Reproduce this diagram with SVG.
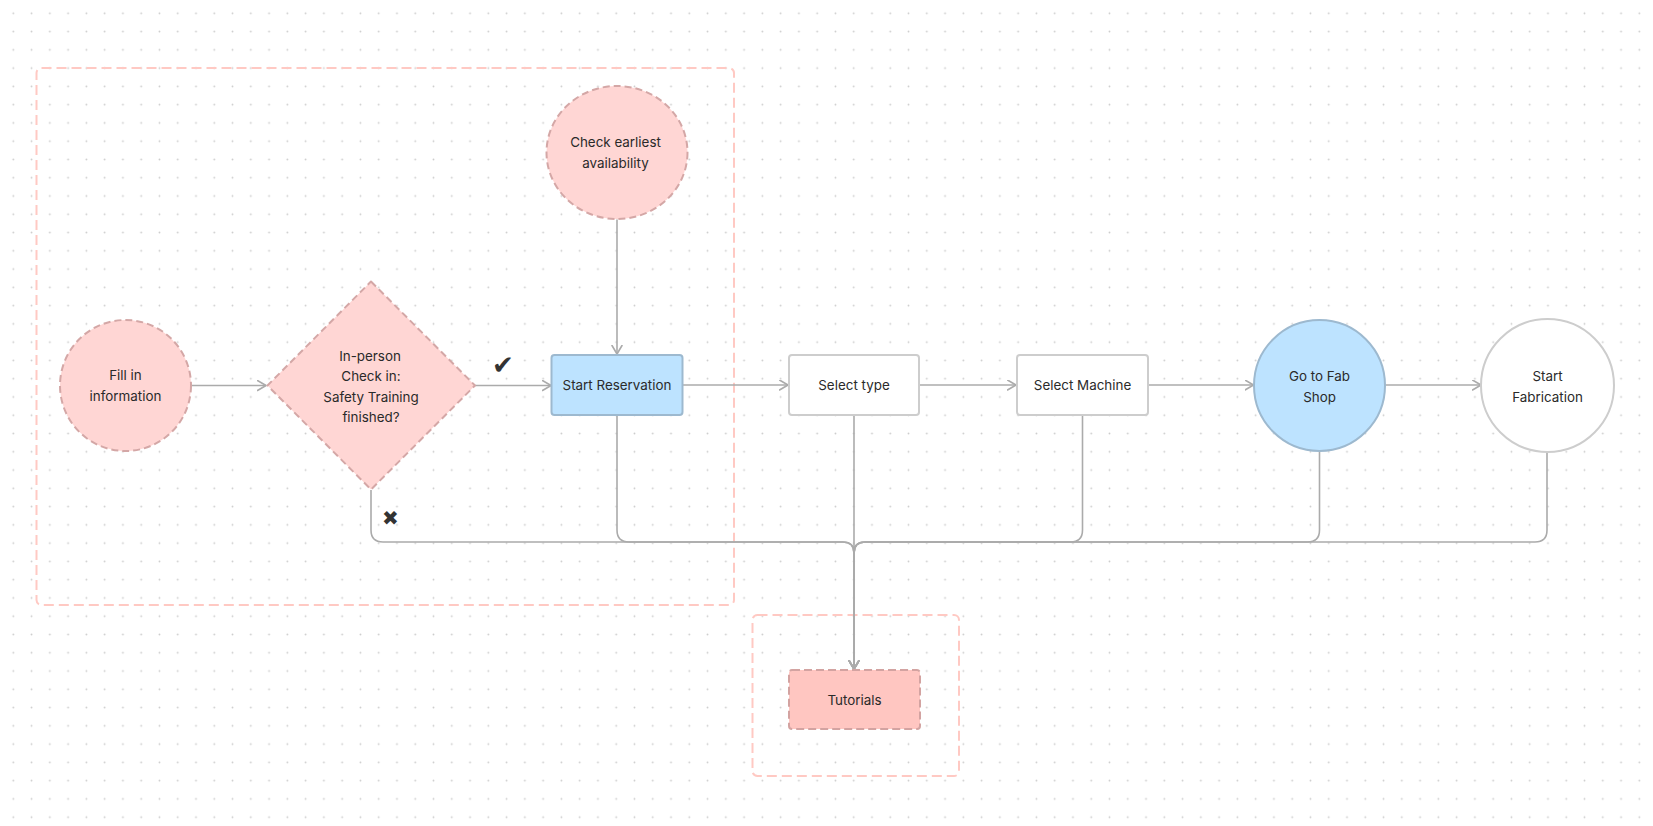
<svg xmlns="http://www.w3.org/2000/svg" width="1653" height="826" viewBox="0 0 1653 826">
<defs>
<pattern id="dots" x="4.17" y="4.17" width="18.27" height="18.27" patternUnits="userSpaceOnUse">
<circle cx="9.135" cy="9.135" r="0.9" fill="#CBCBCB"/>
</pattern>
<marker id="arr" markerWidth="12" markerHeight="14" refX="9" refY="5.5" orient="auto" markerUnits="userSpaceOnUse">
<path d="M0.5,0.5 L9,5.5 L0.5,10.5" fill="none" stroke="#ABABAB" stroke-width="1.6" stroke-linecap="round" stroke-linejoin="round"/>
</marker>
<style>
.t{font-family:Inter,"Liberation Sans",Arial,sans-serif;font-size:13.4px;fill:#2A2A2A;text-anchor:middle}
.pink{fill:#FFD6D4;stroke:#D4A7A6;stroke-width:2;stroke-dasharray:7 4}
.blue{fill:#BDE3FF;stroke:#9DB9CF;stroke-width:2}
.white{fill:#FFFFFF;stroke:#CDCDCD;stroke-width:2}
.frame{fill:none;stroke:#FFC9C3;stroke-width:2;stroke-dasharray:10 5}
.c{fill:none;stroke:#ABABAB;stroke-width:1.6}
.sym{font-family:"DejaVu Sans",sans-serif;fill:#333333;text-anchor:middle}
</style>
</defs>
<rect width="1653" height="826" fill="#FFFFFF"/>
<rect width="1653" height="826" fill="url(#dots)"/>

<g id="frames">
<rect class="frame" x="36.5" y="68" width="697.5" height="537" rx="5"/>
<rect class="frame" x="752.5" y="615" width="206.5" height="161" rx="5"/>
</g>

<g id="connectors">
<path class="c" d="M191 385.5 H266" marker-end="url(#arr)"/>
<path class="c" d="M475 385.5 H551" marker-end="url(#arr)"/>
<path class="c" d="M617 219.5 V354" marker-end="url(#arr)"/>
<path class="c" d="M682.5 385 H788" marker-end="url(#arr)"/>
<path class="c" d="M919 385 H1016" marker-end="url(#arr)"/>
<path class="c" d="M1148 385 H1253.5" marker-end="url(#arr)"/>
<path class="c" d="M1385 385 H1481" marker-end="url(#arr)"/>
<path class="c" d="M371 490 V530 Q371 542 383 542 H843 Q854 542 854 553 V669" marker-end="url(#arr)"/>
<path class="c" d="M617 415 V530 Q617 542 629 542 H843 Q854 542 854 553 V669" marker-end="url(#arr)"/>
<path class="c" d="M854 415 V669" marker-end="url(#arr)"/>
<path class="c" d="M1082.5 415 V530 Q1082.5 542 1070.5 542 H865 Q854 542 854 553 V669" marker-end="url(#arr)"/>
<path class="c" d="M1319.5 451 V530 Q1319.5 542 1307.5 542 H865 Q854 542 854 553 V669" marker-end="url(#arr)"/>
<path class="c" d="M1547 452 V530 Q1547 542 1535 542 H865 Q854 542 854 553 V669" marker-end="url(#arr)"/>
<text class="sym" x="503" y="374" font-size="26">✔</text>
<text class="sym" x="390.5" y="524.5" font-size="20">✖</text>
</g>

<g id="fill-info">
<circle class="pink" cx="125.5" cy="385.5" r="65.5"/>
<text class="t" x="125.5" y="380">Fill in</text>
<text class="t" x="125.5" y="401">information</text>
</g>

<g id="check-in">
<path class="pink" d="M371 281.5 L475 385.5 L371 489.5 L267.5 385.5 Z" stroke-linejoin="round"/>
<text class="t" x="370" y="360.5">In-person</text>
<text class="t" x="371" y="381">Check in:</text>
<text class="t" x="371" y="401.5">Safety Training</text>
<text class="t" x="371" y="421.5">finished?</text>
</g>

<g id="check-availability">
<ellipse class="pink" cx="617" cy="152.5" rx="70.5" ry="66.5"/>
<text class="t" x="615.5" y="147">Check earliest</text>
<text class="t" x="615.5" y="168">availability</text>
</g>

<g id="start-reservation">
<rect class="blue" x="551.5" y="355" width="131" height="60" rx="3"/>
<text class="t" x="617" y="390">Start Reservation</text>
</g>

<g id="select-type">
<rect class="white" x="789" y="355" width="130" height="60" rx="3"/>
<text class="t" x="854" y="390">Select type</text>
</g>

<g id="select-machine">
<rect class="white" x="1017" y="355" width="131" height="60" rx="3"/>
<text class="t" x="1082.5" y="390">Select Machine</text>
</g>

<g id="go-to-fab">
<circle class="blue" cx="1319.5" cy="385.5" r="65.5"/>
<text class="t" x="1319.5" y="380.5">Go to Fab</text>
<text class="t" x="1319.5" y="401.5">Shop</text>
</g>

<g id="start-fabrication">
<circle class="white" cx="1547.5" cy="385.5" r="66.5"/>
<text class="t" x="1547.5" y="380.5">Start</text>
<text class="t" x="1547.5" y="401.5">Fabrication</text>
</g>

<g id="tutorials">
<rect x="789" y="670" width="131" height="59" rx="3" fill="#FFC6C1" stroke="#D3A3A1" stroke-width="2" stroke-dasharray="8 4"/>
<text class="t" x="854.5" y="704.5">Tutorials</text>
</g>
</svg>
